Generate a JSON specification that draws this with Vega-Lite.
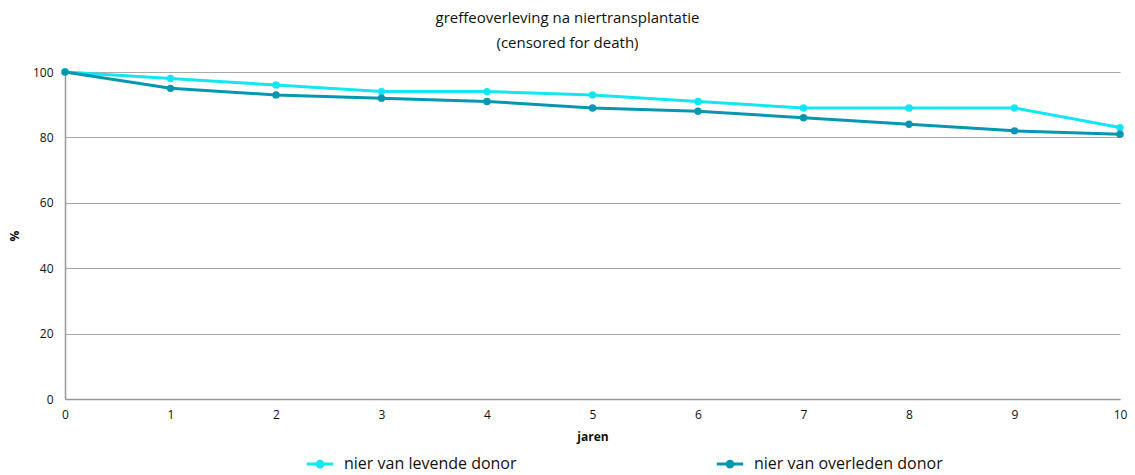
{
  "$schema": "https://vega.github.io/schema/vega-lite/v6.json",
  "width": 1055,
  "height": 327,
  "autosize": {"type": "none"},
  "padding": {"left": 65, "top": 72, "right": 15, "bottom": 76},
  "background": "white",
  "config": {
    "font": "Open Sans",
    "view": {"stroke": null},
    "axis": {"labelFont": "Open Sans", "titleFont": "Open Sans", "labelColor": "#111", "titleColor": "#111"}
  },
  "title": {
    "text": ["greffeoverleving na niertransplantatie", "(censored for death)"],
    "anchor": "middle",
    "dx": -25,
    "offset": 15,
    "fontSize": 15,
    "fontWeight": "normal",
    "lineHeight": 25,
    "color": "#111"
  },
  "data": {
    "values": [
      {"jaar": 0, "pct": 100, "serie": "nier van levende donor"},
      {"jaar": 1, "pct": 98, "serie": "nier van levende donor"},
      {"jaar": 2, "pct": 96, "serie": "nier van levende donor"},
      {"jaar": 3, "pct": 94, "serie": "nier van levende donor"},
      {"jaar": 4, "pct": 94, "serie": "nier van levende donor"},
      {"jaar": 5, "pct": 93, "serie": "nier van levende donor"},
      {"jaar": 6, "pct": 91, "serie": "nier van levende donor"},
      {"jaar": 7, "pct": 89, "serie": "nier van levende donor"},
      {"jaar": 8, "pct": 89, "serie": "nier van levende donor"},
      {"jaar": 9, "pct": 89, "serie": "nier van levende donor"},
      {"jaar": 10, "pct": 83, "serie": "nier van levende donor"},
      {"jaar": 0, "pct": 100, "serie": "nier van overleden donor"},
      {"jaar": 1, "pct": 95, "serie": "nier van overleden donor"},
      {"jaar": 2, "pct": 93, "serie": "nier van overleden donor"},
      {"jaar": 3, "pct": 92, "serie": "nier van overleden donor"},
      {"jaar": 4, "pct": 91, "serie": "nier van overleden donor"},
      {"jaar": 5, "pct": 89, "serie": "nier van overleden donor"},
      {"jaar": 6, "pct": 88, "serie": "nier van overleden donor"},
      {"jaar": 7, "pct": 86, "serie": "nier van overleden donor"},
      {"jaar": 8, "pct": 84, "serie": "nier van overleden donor"},
      {"jaar": 9, "pct": 82, "serie": "nier van overleden donor"},
      {"jaar": 10, "pct": 81, "serie": "nier van overleden donor"}
    ]
  },
  "mark": {"type": "line", "strokeWidth": 3, "point": {"size": 55, "filled": true, "opacity": 1}},
  "encoding": {
    "x": {
      "field": "jaar", "type": "quantitative",
      "scale": {"domain": [0, 10], "nice": false},
      "axis": {
        "title": "jaren", "titleFontWeight": "bold", "titleFontSize": 12, "titlePadding": 11,
        "values": [0, 1, 2, 3, 4, 5, 6, 7, 8, 9, 10], "format": "d", "labelFlush": false,
        "grid": false, "ticks": false, "labelPadding": 10, "labelFontSize": 12,
        "domainColor": "#999", "domainWidth": 1.5
      }
    },
    "y": {
      "field": "pct", "type": "quantitative",
      "scale": {"domain": [0, 100], "nice": false},
      "axis": {
        "title": "%", "titleFontWeight": "bold", "titleFontSize": 12, "titlePadding": 11,
        "values": [0, 20, 40, 60, 80, 100],
        "grid": true, "gridColor": "#aaa", "gridWidth": 1,
        "ticks": false, "labelPadding": 12, "labelFontSize": 12,
        "domainColor": "#999", "domainWidth": 1.5
      }
    },
    "color": {
      "field": "serie", "type": "nominal",
      "scale": {"domain": ["nier van levende donor", "nier van overleden donor"], "range": ["#12e6f5", "#0596b2"]},
      "legend": {
        "title": null,
        "orient": "none",
        "legendX": 240,
        "legendY": 377,
        "direction": "horizontal",
        "columns": 2,
        "columnPadding": 193,
        "labelFontSize": 16,
        "labelLimit": 300,
        "labelColor": "#111",
        "symbolType": "M-1,0H1M0.22,0A0.22,0.22,0,1,1,-0.22,0A0.22,0.22,0,1,1,0.22,0Z",
        "symbolSize": 700,
        "symbolStrokeWidth": 3,
        "labelOffset": 9
      }
    }
  }
}
